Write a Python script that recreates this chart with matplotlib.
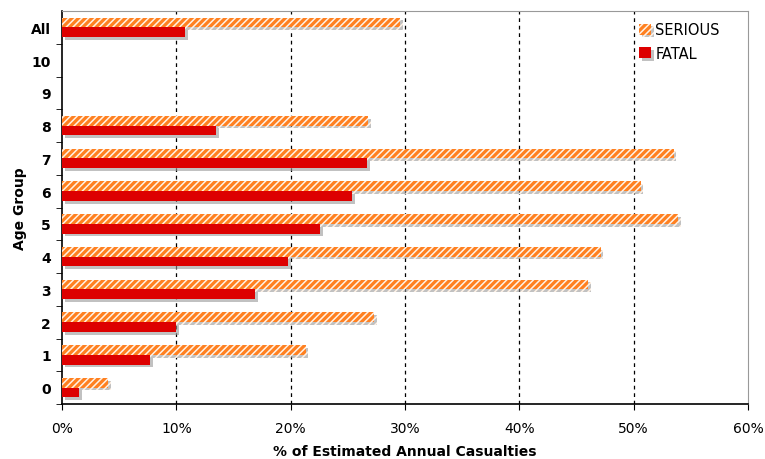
import matplotlib
matplotlib.use("Agg")
import matplotlib.pyplot as plt
import matplotlib.patheffects as pe
import numpy as np

categories = ["0", "1", "2", "3", "4", "5", "6", "7", "8", "9", "10", "All"]
serious = [4.0, 21.3, 27.3, 46.0, 47.1, 53.9, 50.6, 53.5, 26.8, 0, 0, 29.6]
fatal = [1.5, 7.7, 10.0, 16.9, 19.8, 22.6, 25.4, 26.7, 13.5, 0, 0, 10.8]
xticks = [0, 10, 20, 30, 40, 50, 60]

plt.rcParams['font.family'] = ['DejaVu Sans']
plt.rcParams['hatch.linewidth'] = 1.1

fig = plt.figure(figsize=(7.65, 4.6), dpi=100)
ax = fig.add_axes([62/765, 1-405/460, (748-62)/765, (405-12)/460])

y = np.arange(len(categories))
h = 0.3
shadow = [pe.SimplePatchShadow(offset=(2, -2), shadow_rgbFace='#999999', alpha=0.6), pe.Normal()]

sv = [v if v > 0 else np.nan for v in serious]
fv = [v if v > 0 else np.nan for v in fatal]
bs = ax.barh(y + 0.15, sv, height=h, color='#FF8020', edgecolor='#FFF2E6',
             hatch='/////', linewidth=0, label='SERIOUS', zorder=3)
bf = ax.barh(y - 0.15, fv, height=h, color='#DD0000', linewidth=0,
             label='FATAL', zorder=3)
for b in list(bs) + list(bf):
    b.set_path_effects(shadow)

ax.set_xlim(0, 60)
ax.set_ylim(-0.5, 11.5)
ax.set_xticks(xticks)
ax.set_xticklabels([f"{t}%" for t in xticks], fontsize=10)
ax.set_yticks(y)
ax.set_yticklabels(categories, fontsize=10, fontweight='bold')
ax.set_yticks(np.arange(-0.5, 11.5, 1), minor=True)
ax.tick_params(axis='y', which='major', length=0, pad=8)
ax.tick_params(axis='y', which='minor', length=4, direction='out')
ax.tick_params(axis='x', which='major', length=4, direction='out', pad=8)

for t in xticks[1:-1]:
    ax.axvline(t, color='black', linestyle=(0, (3, 3)), linewidth=0.9, zorder=1)

ax.spines['top'].set_color('#999999')
ax.spines['right'].set_color('#999999')
ax.spines['left'].set_color('black')
ax.spines['bottom'].set_color('black')
ax.spines['left'].set_linewidth(1.2)
ax.spines['bottom'].set_linewidth(1.2)

ax.set_xlabel('% of Estimated Annual Casualties', fontsize=10, fontweight='bold', labelpad=7)
ax.set_ylabel('Age Group', fontsize=10, fontweight='bold', labelpad=3)

leg = ax.legend(handles=[bs, bf], loc='upper right', bbox_to_anchor=(0.978, 1.005),
                frameon=False, fontsize=10.5, handlelength=0.8, handleheight=0.8,
                handletextpad=0.3, labelspacing=0.6)

fig.savefig('out.png', dpi=100)
